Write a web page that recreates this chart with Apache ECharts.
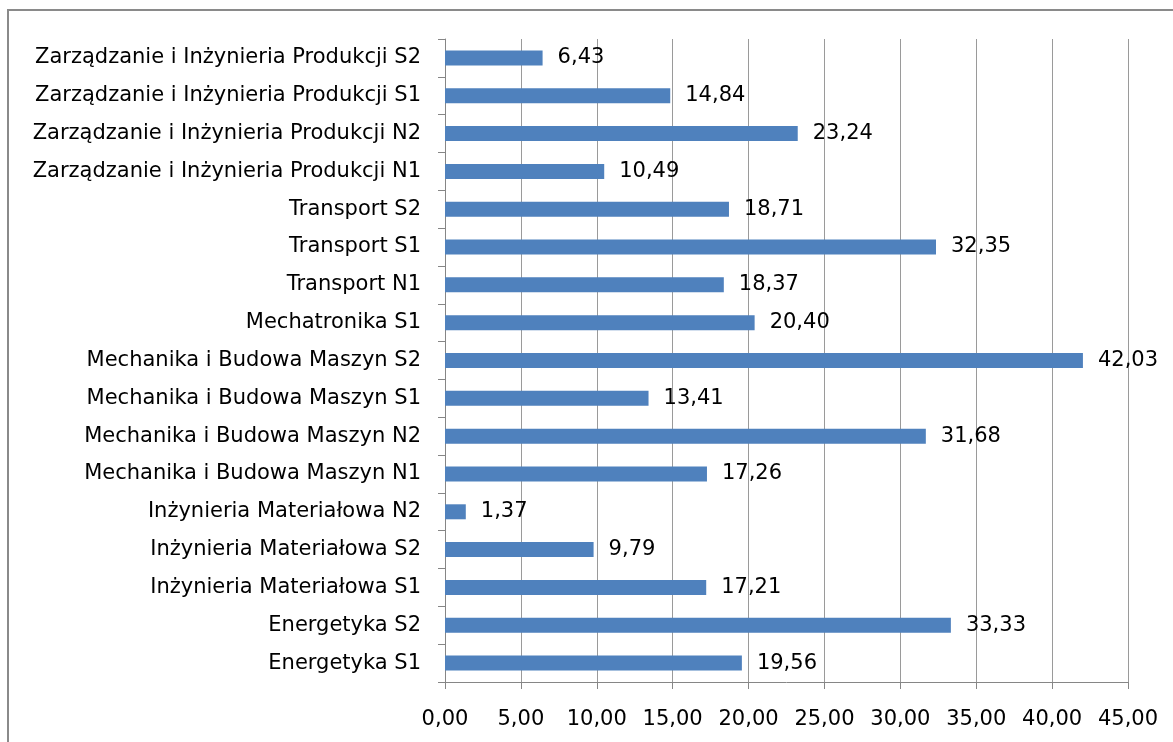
<!DOCTYPE html>
<html>
<head>
<meta charset="utf-8">
<script src="https://cdn.jsdelivr.net/npm/echarts@6/dist/echarts.min.js"></script>
<style>
html,body{margin:0;padding:0;background:#fff;}
#chart{width:1173px;height:742px;}
</style>
</head>
<body>
<div id="chart"></div>
<script>
const categories = [
  "Zarządzanie i Inżynieria Produkcji S2",
  "Zarządzanie i Inżynieria Produkcji S1",
  "Zarządzanie i Inżynieria Produkcji N2",
  "Zarządzanie i Inżynieria Produkcji N1",
  "Transport S2",
  "Transport S1",
  "Transport N1",
  "Mechatronika S1",
  "Mechanika i Budowa Maszyn S2",
  "Mechanika i Budowa Maszyn S1",
  "Mechanika i Budowa Maszyn N2",
  "Mechanika i Budowa Maszyn N1",
  "Inżynieria Materiałowa N2",
  "Inżynieria Materiałowa S2",
  "Inżynieria Materiałowa S1",
  "Energetyka S2",
  "Energetyka S1"
];
const values = [6.43, 14.84, 23.24, 10.49, 18.71, 32.35, 18.37, 20.40, 42.03, 13.41, 31.68, 17.26, 1.37, 9.79, 17.21, 33.33, 19.56];
const axisMin = 0, axisMax = 45, axisStep = 5;

const fmt = v => Number(v).toFixed(2).replace('.', ',');
const FONT = '"DejaVu Sans", sans-serif';
const chart = echarts.init(document.getElementById('chart'));
chart.setOption({
  animation: false,
  backgroundColor: '#ffffff',
  graphic: [{
    type: 'rect', z: -10, silent: true,
    shape: { x: 8, y: 10, width: 1300, height: 900 },
    style: { fill: 'none', stroke: '#8a8a8a', lineWidth: 2 }
  }],
  grid: { left: 445, right: 45, top: 39, bottom: 60, containLabel: false },
  xAxis: {
    type: 'value', min: axisMin, max: axisMax, interval: axisStep,
    axisLine: { show: true, lineStyle: { color: '#868686', width: 1 } },
    axisTick: { show: true, length: 7, lineStyle: { color: '#868686' } },
    splitLine: { show: true, lineStyle: { color: '#9a9a9a', width: 1 } },
    axisLabel: { formatter: fmt, fontFamily: FONT, fontSize: 21, color: '#000', margin: 27 }
  },
  yAxis: {
    type: 'category', inverse: true, data: categories,
    axisLine: { show: true, lineStyle: { color: '#868686', width: 1 } },
    axisTick: { show: true, length: 7, alignWithLabel: false, lineStyle: { color: '#868686' } },
    axisLabel: { fontFamily: FONT, fontSize: 21, color: '#000', margin: 24 }
  },
  series: [{
    type: 'bar', data: values, barWidth: 15,
    itemStyle: { color: '#4f81bd' },
    label: {
      show: true, position: 'right', distance: 15,
      formatter: p => fmt(p.value),
      fontFamily: FONT, fontSize: 21, color: '#000'
    }
  }]
});
</script>
</body>
</html>
